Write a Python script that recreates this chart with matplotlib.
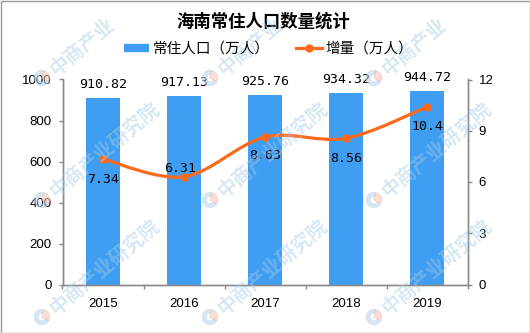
import numpy as np
import matplotlib
matplotlib.use("Agg")
import matplotlib.pyplot as plt
from matplotlib.path import Path
from matplotlib.patches import PathPatch, Wedge, Rectangle
from matplotlib.lines import Line2D

years = ["2015", "2016", "2017", "2018", "2019"]
population = [910.82, 917.13, 925.76, 934.32, 944.72]
increase = [7.34, 6.31, 8.63, 8.56, 10.4]
pop_labels = ["910.82", "917.13", "925.76", "934.32", "944.72"]
inc_labels = ["7.34", "6.31", "8.63", "8.56", "10.4"]

bar_color = "#3f9ef1"
line_color = "#ff691c"
axis_color = "#8a8a8a"
cjk = ["Noto Sans CJK SC", "DejaVu Sans"]

W, H = 530, 333
fig = plt.figure(figsize=(W / 100, H / 100), dpi=100)


def fx(x):
    return x / W


def fy(y):
    return 1 - y / H


# plot area in pixels (from top-left)
left, right, top, bottom = 62.5, 467.5, 79.5, 284.5
ax = fig.add_axes([fx(left), fy(bottom), (right - left) / W, (bottom - top) / H])
ax2 = ax.twinx()

x = np.arange(len(years))
ax.bar(x, population, width=0.41, color=bar_color, zorder=2)
ax.set_xlim(-0.5, len(years) - 0.5)
ax.set_ylim(0, 1000)
ax.set_yticks(range(0, 1001, 200))
ax2.set_ylim(0, 12)
ax2.set_yticks(range(0, 13, 3))

ax.set_xticks(x)
ax.set_xticklabels(years)
ax.set_xticks(np.arange(-0.5, len(years), 1), minor=True)
ax.tick_params(axis="x", which="major", length=0, pad=9.5)
ax.tick_params(axis="x", which="minor", length=3, width=1, color=axis_color)
ax.tick_params(axis="y", length=3, width=1, color=axis_color, pad=5)
ax2.tick_params(axis="y", length=3, width=1, color=axis_color, pad=5)

for a in (ax, ax2):
    a.spines["top"].set_visible(False)
    for s in ("left", "right", "bottom"):
        a.spines[s].set_color(axis_color)
        a.spines[s].set_linewidth(1)
    for lab in a.get_xticklabels() + a.get_yticklabels():
        lab.set_fontfamily("Liberation Sans")
        lab.set_fontsize(9.5)

# smooth line (catmull-rom as bezier segments)
pts = np.column_stack([x, increase]).astype(float)
padded = np.vstack([pts[0], pts, pts[-1]])
verts = [pts[0]]
codes = [Path.MOVETO]
for i in range(len(pts) - 1):
    p0, p1, p2, p3 = padded[i], padded[i + 1], padded[i + 2], padded[i + 3]
    c1 = p1 + (p2 - p0) / 6
    c2 = p2 - (p3 - p1) / 6
    verts += [c1, c2, p2]
    codes += [Path.CURVE4] * 3
ax2.add_patch(PathPatch(Path(verts, codes), fill=False, edgecolor=line_color,
                        lw=2.3, capstyle="round", zorder=3))
ax2.plot(x, increase, "o", color=line_color, ms=5, zorder=4)

for xi, v, t in zip(x, population, pop_labels):
    ax.annotate(t, (xi, v), xytext=(0, 7.2), textcoords="offset points",
                ha="center", va="baseline", fontsize=9.5,
                family="DejaVu Sans Mono", color="black")

inc_offsets = [(0, -14.4), (-3, 5.8), (0, -13.5), (0, -14.4), (0, -14)]
for xi, v, t, off in zip(x, increase, inc_labels, inc_offsets):
    ax2.annotate(t, (xi, v), xytext=off, textcoords="offset points",
                 ha="center", va="center", fontsize=9.5,
                 family="DejaVu Sans Mono", color="black", zorder=5)

fig.text(fx(263.5), fy(22), "海南常住人口数量统计", ha="center", va="center",
         fontsize=12.5, fontweight="bold", family=cjk)

handles = [Line2D([], [], color=bar_color, lw=6, solid_capstyle="butt"),
           Line2D([], [], color=line_color, lw=2.3, marker="o", ms=5)]
fig.legend(handles, ["常住人口（万人）", "增量（万人）"], loc="center",
           bbox_to_anchor=(fx(268.5), fy(49)), ncol=2, frameon=False,
           prop={"family": cjk, "size": 10.5}, handlelength=1.75,
           handletextpad=0.25, columnspacing=1.8, borderpad=0)

# faint watermark (top row runs off the top edge, so keep it short)
for lx in (44, 212, 376):
    for ly in (78, 200, 317):
        c = ((lx - 2) / 100, (H - ly) / 100)
        fig.patches.append(Wedge(c, 0.075, 80, 330, width=0.035, color="#b9d4ea",
                                 alpha=0.5, transform=fig.dpi_scale_trans, zorder=3))
        fig.patches.append(Wedge(c, 0.075, 330, 80, color="#f3c2b4",
                                 alpha=0.5, transform=fig.dpi_scale_trans, zorder=3))
        wm = "中商产业" if ly < 100 else "中商产业研究院"
        fig.text(fx(lx + 8), fy(ly - 6), wm, rotation=40,
                 rotation_mode="anchor", ha="left", va="center", fontsize=14,
                 fontweight="bold", family=cjk, color="#a9cbe8", alpha=0.45, zorder=3)

fig.patches.append(Rectangle((0.5 / W, 0.5 / H), 1 - 1 / W, 1 - 1 / H, fill=False,
                             edgecolor="#9a9a9a", lw=1, transform=fig.transFigure))

fig.savefig("out.png", dpi=100)
